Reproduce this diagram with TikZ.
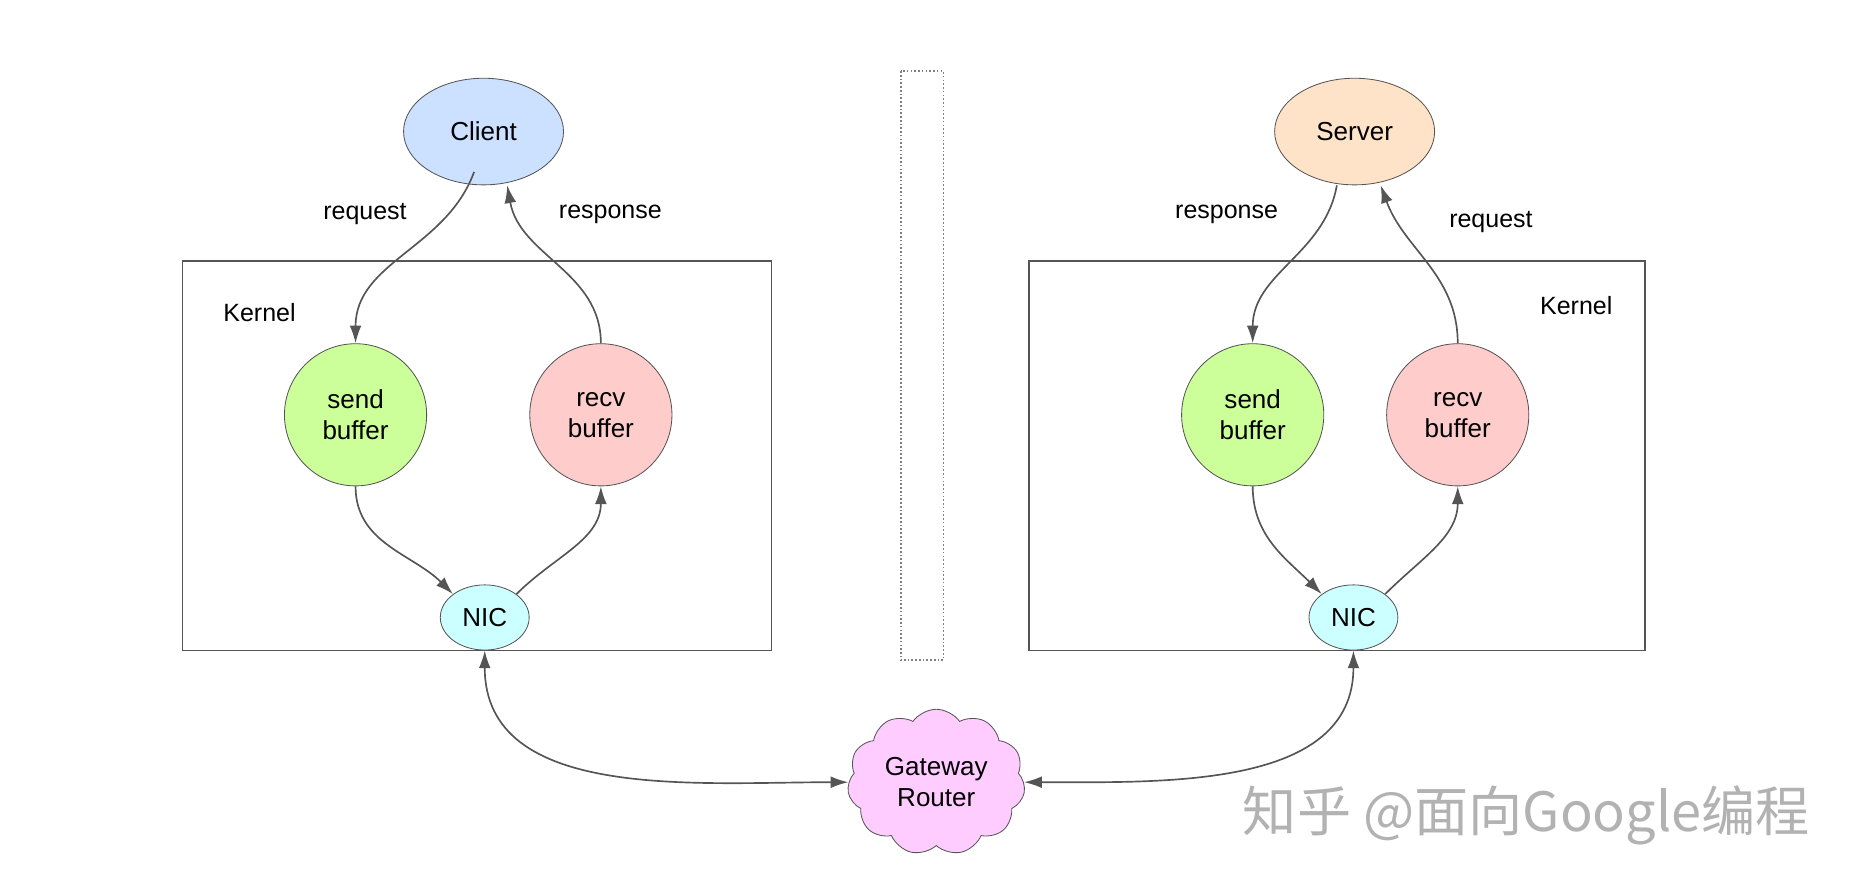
\documentclass[tikz,border=0pt]{standalone}
\usepackage{fontspec}
\setmainfont{Liberation Sans}
\newfontfamily\cjk{Noto Sans CJK SC}
\usetikzlibrary{shapes.geometric,shapes.symbols,arrows.meta}
\definecolor{clientblue}{HTML}{CCE0FF}
\definecolor{serverorange}{HTML}{FFE3C8}
\definecolor{sendgreen}{HTML}{CCFF99}
\definecolor{recvpink}{HTML}{FFCCCC}
\definecolor{niccyan}{HTML}{CCFFFF}
\definecolor{cloudpink}{HTML}{FFCCFF}
\definecolor{linegray}{HTML}{555555}
\tikzset{
  app/.style={draw=linegray, ellipse, minimum width=2.7cm, minimum height=1.8cm, font=\fontsize{12.5}{14}\selectfont},
  buf/.style={draw=linegray, circle, minimum size=2.4cm, align=center, font=\fontsize{12.5}{15}\selectfont},
  nic/.style={draw=linegray, ellipse, minimum width=1.5cm, minimum height=1.1cm, font=\fontsize{12.5}{14}\selectfont},
  lbl/.style={font=\fontsize{12}{14}\selectfont},
  flow/.style={draw=linegray, thick, -{Latex[length=3mm,width=2mm]}},
  link/.style={draw=linegray, thick, {Latex[length=3mm,width=2mm]}-{Latex[length=3mm,width=2mm]}}
}
\begin{document}
\begin{tikzpicture}[x=0.02cm, y=-0.02cm]
  \useasboundingbox (0,0) rectangle (1561,754);

  % Kernel boxes and the middle divider
  \draw[linegray, thick] (154,220) rectangle (651,549);
  \draw[linegray, thick] (868,220) rectangle (1388,549);
  \draw[gray, densely dotted, thick] (760,60) rectangle (796,557);

  % Client side
  \node[app, fill=clientblue] (client) at (408,111) {Client};
  \node[buf, fill=sendgreen] (csend) at (300,350) {send\\buffer};
  \node[buf, fill=recvpink] (crecv) at (507,350) {recv\\buffer};
  \node[nic, fill=niccyan] (cnic) at (409,521) {NIC};
  \node[lbl] (creq) at (308,181) {request};
  \node[lbl] (cresp) at (515,181) {response};
  \node[lbl] (ckern) at (219,264) {Kernel};

  % Server side
  \node[app, fill=serverorange] (server) at (1143,111) {Server};
  \node[buf, fill=sendgreen] (ssend) at (1057,350) {send\\buffer};
  \node[buf, fill=recvpink] (srecv) at (1230,350) {recv\\buffer};
  \node[nic, fill=niccyan] (snic) at (1142,521) {NIC};
  \node[lbl] (sresp) at (1035,181) {response};
  \node[lbl] (sreq) at (1258,187) {request};
  \node[lbl] (skern) at (1330,258) {Kernel};

  % Gateway
  \node[draw=linegray, cloud, cloud puffs=11, cloud puff arc=110, aspect=1.3,
        fill=cloudpink, minimum width=3cm, minimum height=2.3cm, align=center,
        font=\fontsize{12.5}{15}\selectfont] (gw) at (790,660) {Gateway\\Router};

  % Connectors
  \draw[flow] (client.south west) ++(40,2) to[out=-110, in=90] (csend.north);
  \draw[flow] (crecv.north) to[out=90, in=-80] ([xshift=20*0.02cm]client.south);
  \draw[flow] (csend.south) to[out=-90, in=135] (cnic.north west);
  \draw[flow] (cnic.north east) to[out=45, in=-90] (crecv.south);
  \draw[flow] ([xshift=-15*0.02cm]server.south) to[out=-100, in=90] (ssend.north);
  \draw[flow] (srecv.north) to[out=90, in=-70] ([xshift=22*0.02cm]server.south);
  \draw[flow] (ssend.south) to[out=-90, in=135] (snic.north west);
  \draw[flow] (snic.north east) to[out=45, in=-90] (srecv.south);
  \draw[link] (cnic.south) to[out=-90, in=180] (gw.west);
  \draw[link] (gw.east) to[out=0, in=-90] (snic.south);

  % Watermark
  \node[text=gray!60, font=\cjk\fontsize{26}{30}\selectfont] (mark) at (1288,688) {知乎 @面向Google编程};
\end{tikzpicture}
\end{document}
